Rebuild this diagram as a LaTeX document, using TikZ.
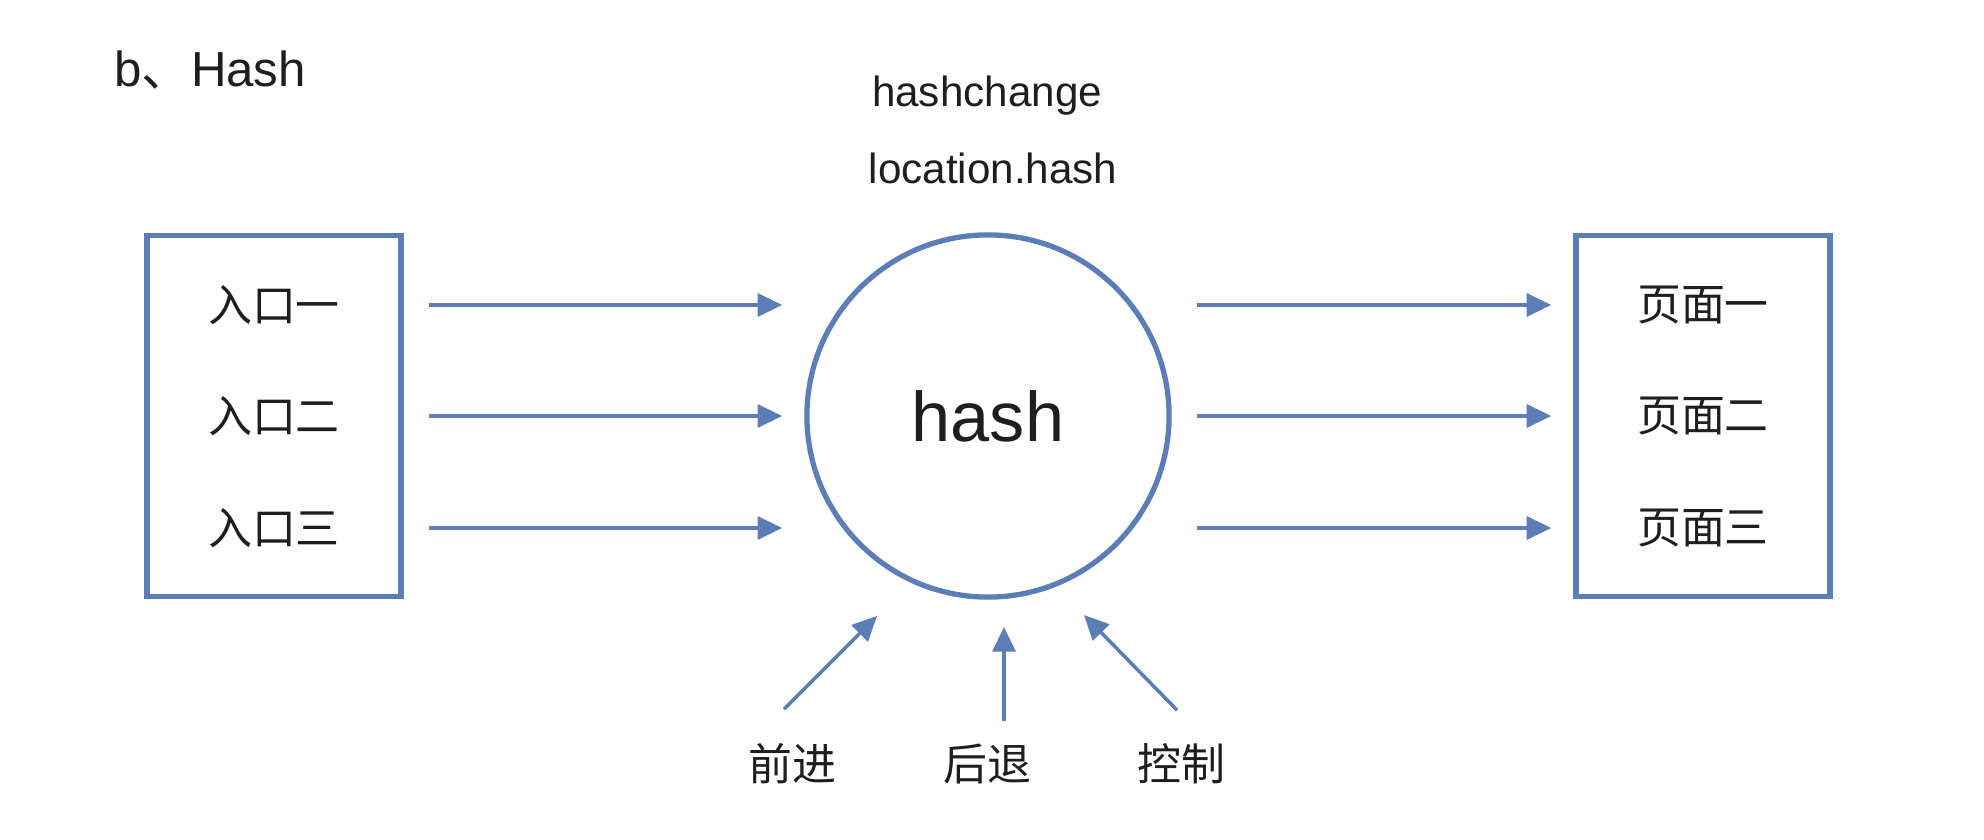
\documentclass[tikz,border=0pt]{standalone}
\usepackage{fontspec}
\setmainfont{Liberation Sans}
\newfontfamily\cjk{Noto Sans CJK SC}
\usepackage{tikz}
\usetikzlibrary{arrows.meta,positioning,calc}
\definecolor{HashBlue}{RGB}{92,125,181}
\definecolor{InkGray}{RGB}{30,30,30}

\begin{document}
\begin{tikzpicture}[x=0.01cm, y=-0.01cm,
  every node/.style={text=InkGray},
  frame/.style={draw=HashBlue, line width=1.5pt, minimum width=2.54cm, minimum height=3.61cm},
  item/.style={font=\cjk\fontsize{12.5}{15}\selectfont, inner sep=0pt},
  flow/.style={draw=HashBlue, line width=1pt, -{Triangle[length=7pt,width=6.5pt]}, shorten <=0.25cm, shorten >=0.22cm},
  push/.style={draw=HashBlue, line width=1pt, -{Triangle[length=7pt,width=6.5pt]}}]
\useasboundingbox (0,0) rectangle (1984,840);

% titles
\node[anchor=west, font=\fontsize{14}{16}\selectfont] (title) at (102,70) {b{\cjk 、}Hash};
\node[font=\fontsize{12}{14}\selectfont] (event) at (987,96) {hashchange};
\node[font=\fontsize{12}{14}\selectfont] (prop) at (993,168) {location.hash};

% boxes and router
\node[frame] (entries) at (274,416) {};
\node[frame] (pages) at (1703,416) {};
\node[draw=HashBlue, line width=1.5pt, circle, minimum size=3.62cm, font=\fontsize{20}{24}\selectfont] (hash) at (988,416) {hash};

\foreach \y/\n/\t in {305/1/一, 416/2/二, 528/3/三} {
  \node[item] (in\n) at (274,\y) {入口\t};
  \node[item] (page\n) at (1703,\y) {页面\t};
  \draw[flow] (entries.east |- in\n) -- (hash.west |- in\n);
  \draw[flow] (hash.east |- page\n) -- (pages.west |- page\n);
}

% history controls
\node[item] (fwd) at (792,764) {前进};
\node[item] (back) at (987,764) {后退};
\node[item] (ctrl) at (1181,764) {控制};
\coordinate (fwdtip) at (877,616);
\coordinate (backtip) at (1004,627);
\coordinate (ctrltip) at (1084,615);
\draw[push] ([shift={(-8,-34)}]fwd.north) -- (fwdtip);
\draw[push] ([shift={(17,-22)}]back.north) -- (backtip);
\draw[push] ([shift={(-4,-33)}]ctrl.north) -- (ctrltip);
\end{tikzpicture}
\end{document}
